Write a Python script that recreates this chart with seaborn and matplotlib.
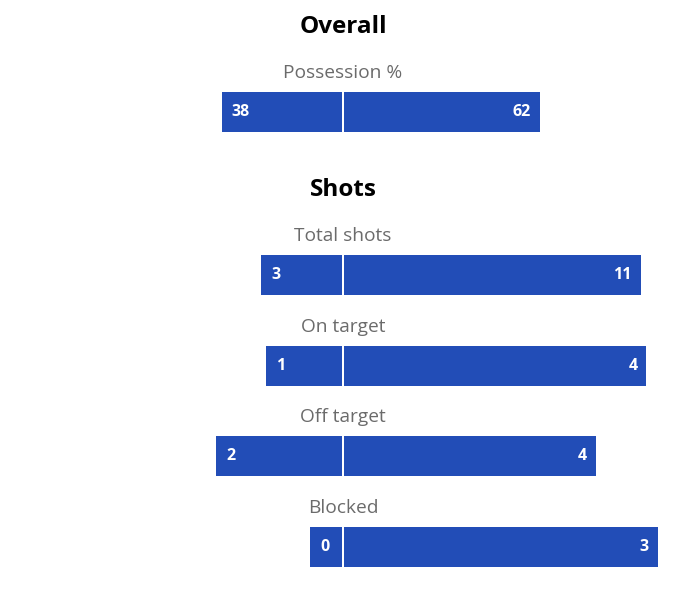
import matplotlib
matplotlib.use("Agg")
import matplotlib.pyplot as plt
import seaborn as sns

# Data
sections = ["Overall", "Shots"]
stat_labels = ["Possession %", "Total shots", "On target", "Off target", "Blocked"]
home_values = [38, 3, 1, 2, 0]
away_values = [62, 11, 4, 4, 3]

sns.set_theme(style="white")
plt.rcParams["font.family"] = ["Open Sans", "DejaVu Sans"]

bar_color = "#224db7"
label_color = "#6b6b6b"

# layout (pixel coords)
mid = 343
gap = 1
bar_h = 40
row_y = [111.5, 275, 366, 456, 547]
span = [316, 378, 378, 378, 346]
min_w = 32
section_y = [27, 190]

fig = plt.figure(figsize=(6.81, 6.01), dpi=100)
ax = fig.add_axes([0, 0, 1, 1])
ax.set_xlim(0, 681)
ax.set_ylim(601, 0)
ax.axis("off")

for i, (lab, h, a) in enumerate(zip(stat_labels, home_values, away_values)):
    y = row_y[i]
    lw = max(h / (h + a) * span[i], min_w)
    rw = span[i] - lw
    ax.barh(y, lw, left=mid - gap - lw, height=bar_h, color=bar_color, linewidth=0)
    ax.barh(y, rw, left=mid + gap, height=bar_h, color=bar_color, linewidth=0)
    ax.text(mid - gap - lw + 10, y, str(h), color="white", fontsize=11.5,
            fontweight="bold", ha="left", va="center")
    ax.text(mid + gap + rw - 9, y, str(a), color="white", fontsize=11.5,
            fontweight="bold", ha="right", va="center")
    ax.text(mid, y - 39, lab, color=label_color, fontsize=13.8,
            ha="center", va="center")

for s, y in zip(sections, section_y):
    ax.text(mid, y, s, color="black", fontsize=17.5, fontweight="bold",
            ha="center", va="center")

fig.savefig("out.png", dpi=100, facecolor="white")
